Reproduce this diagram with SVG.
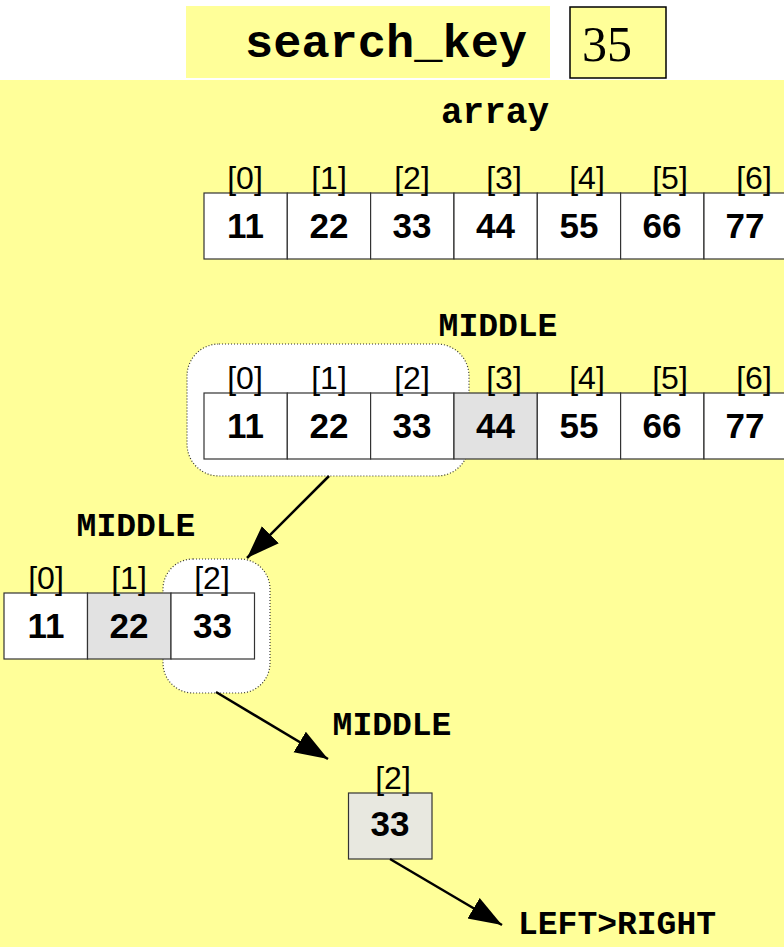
<svg xmlns="http://www.w3.org/2000/svg" width="784" height="947" viewBox="0 0 784 947">
<style>
.bg{fill:#ffff99}
.cell{fill:#ffffff;stroke:#333;stroke-width:1.2}
.mid{fill:#e2e2e2;stroke:#333;stroke-width:1.2}
.fin{fill:#e8e8e0;stroke:#333;stroke-width:1.2}
.hl{fill:#ffffff;stroke:#333;stroke-width:1.2;stroke-dasharray:1 2}
.idx{font-family:"Liberation Sans",Arial,sans-serif;font-size:32px;fill:#000;text-anchor:middle}
.val{font-family:"Liberation Sans",Arial,sans-serif;font-size:35px;font-weight:bold;fill:#000;text-anchor:middle}
.mono{font-family:"Liberation Mono","Courier New",monospace;font-weight:bold;fill:#000}
.conn{stroke:#000;stroke-width:2.5;fill:none;marker-end:url(#ah)}
</style>
<defs>
<marker id="ah" markerUnits="userSpaceOnUse" markerWidth="36" markerHeight="26" refX="33" refY="12" orient="auto" viewBox="0 0 36 24">
<path d="M0,0 L33,12 L0,24 Z" fill="#000"/>
</marker>
</defs>

<g id="search-key">
<rect x="186" y="6" width="364" height="72" class="bg"/>
<text x="245" y="57" class="mono" font-size="47">search_key</text>
<rect x="570" y="7" width="96" height="71" fill="#ffff99" stroke="#000" stroke-width="1.5"/>
<text x="607" y="61" font-family="Liberation Serif,'Times New Roman',serif" font-size="50" text-anchor="middle">35</text>
</g>

<rect id="panel" x="0" y="80" width="784" height="867" class="bg"/>

<g id="array-label"><text x="495" y="123" class="mono" font-size="36" text-anchor="middle">array</text></g>

<g id="array1">
<rect x="204" y="193" width="83.3" height="66" class="cell"/>
<rect x="287.3" y="193" width="83.3" height="66" class="cell"/>
<rect x="370.6" y="193" width="83.3" height="66" class="cell"/>
<rect x="454" y="193" width="83.3" height="66" class="cell"/>
<rect x="537.3" y="193" width="83.3" height="66" class="cell"/>
<rect x="620.6" y="193" width="83.3" height="66" class="cell"/>
<rect x="704" y="193" width="83.3" height="66" class="cell"/>
<text x="245" y="189" class="idx">[0]</text>
<text x="329" y="189" class="idx">[1]</text>
<text x="412" y="189" class="idx">[2]</text>
<text x="504" y="189" class="idx">[3]</text>
<text x="587" y="189" class="idx">[4]</text>
<text x="670" y="189" class="idx">[5]</text>
<text x="754" y="189" class="idx">[6]</text>
<text x="245.5" y="238" class="val">11</text>
<text x="329" y="238" class="val">22</text>
<text x="412" y="238" class="val">33</text>
<text x="495.5" y="238" class="val">44</text>
<text x="579" y="238" class="val">55</text>
<text x="662" y="238" class="val">66</text>
<text x="745" y="238" class="val">77</text>
</g>

<g id="array2">
<text x="498" y="336" class="mono" font-size="33" text-anchor="middle">MIDDLE</text>
<rect x="187" y="344" width="282" height="132" rx="32" class="hl"/>
<rect x="204" y="393" width="83.3" height="66" class="cell"/>
<rect x="287.3" y="393" width="83.3" height="66" class="cell"/>
<rect x="370.6" y="393" width="83.3" height="66" class="cell"/>
<rect x="454" y="393" width="83.3" height="66" class="mid"/>
<rect x="537.3" y="393" width="83.3" height="66" class="cell"/>
<rect x="620.6" y="393" width="83.3" height="66" class="cell"/>
<rect x="704" y="393" width="83.3" height="66" class="cell"/>
<text x="245" y="389" class="idx">[0]</text>
<text x="329" y="389" class="idx">[1]</text>
<text x="412" y="389" class="idx">[2]</text>
<text x="504" y="389" class="idx">[3]</text>
<text x="587" y="389" class="idx">[4]</text>
<text x="670" y="389" class="idx">[5]</text>
<text x="754" y="389" class="idx">[6]</text>
<text x="245.5" y="438" class="val">11</text>
<text x="329" y="438" class="val">22</text>
<text x="412" y="438" class="val">33</text>
<text x="495.5" y="438" class="val">44</text>
<text x="579" y="438" class="val">55</text>
<text x="662" y="438" class="val">66</text>
<text x="745" y="438" class="val">77</text>
</g>

<g id="array3">
<text x="136" y="536" class="mono" font-size="33" text-anchor="middle">MIDDLE</text>
<rect x="163" y="559" width="107" height="134" rx="30" class="hl"/>
<rect x="4" y="593" width="83.5" height="66" class="cell"/>
<rect x="87.5" y="593" width="83.5" height="66" class="mid"/>
<rect x="171" y="593" width="83.5" height="66" class="cell"/>
<text x="46" y="589" class="idx">[0]</text>
<text x="129" y="589" class="idx">[1]</text>
<text x="212" y="589" class="idx">[2]</text>
<text x="46" y="638" class="val">11</text>
<text x="129" y="638" class="val">22</text>
<text x="212.5" y="638" class="val">33</text>
</g>

<g id="array4">
<text x="392" y="735" class="mono" font-size="33" text-anchor="middle">MIDDLE</text>
<rect x="348.5" y="793" width="83.5" height="66" class="fin"/>
<text x="393" y="789" class="idx">[2]</text>
<text x="390" y="836" class="val">33</text>
</g>

<g id="result"><text x="617" y="934" class="mono" font-size="33" text-anchor="middle">LEFT&gt;RIGHT</text></g>

<g id="connectors">
<line x1="329" y1="476" x2="247" y2="558" class="conn"/>
<line x1="216" y1="692" x2="328" y2="759" class="conn"/>
<line x1="390" y1="859" x2="502" y2="925" class="conn"/>
</g>
</svg>
